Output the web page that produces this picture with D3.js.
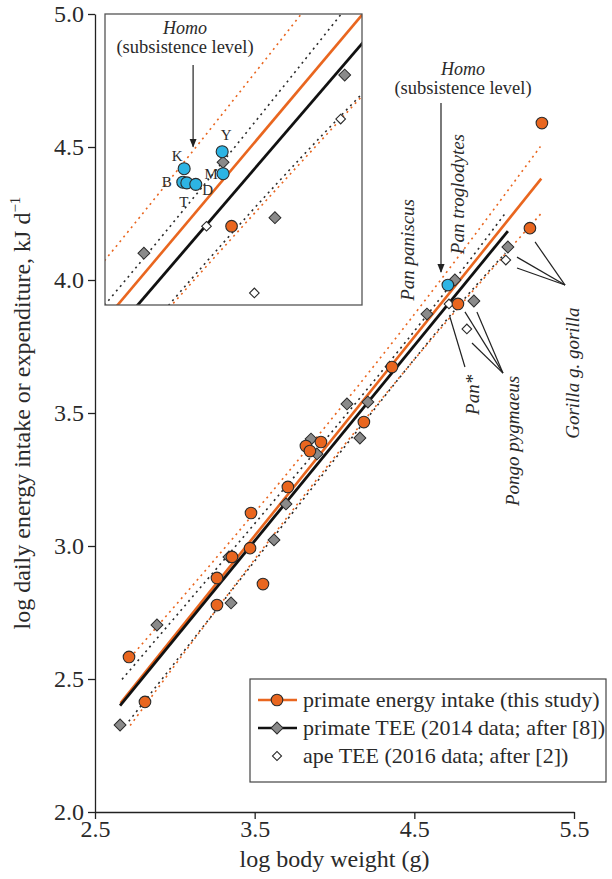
<!DOCTYPE html>
<html><head><meta charset="utf-8">
<script src="https://cdn.jsdelivr.net/npm/d3@7"></script>
<style>
body{margin:0;background:#fff}
text{font-family:"Liberation Serif","Times New Roman",serif;fill:#2a2a2a}
</style>
</head><body>
<svg id="c" width="612" height="879"></svg>
<script>
// ---------------- data ----------------
const xTicks = [2.5, 3.5, 4.5, 5.5];
const yTicks = [2.0, 2.5, 3.0, 3.5, 4.0, 4.5, 5.0];

// primate energy intake (this study)
const intakeX = [2.713, 2.813, 3.264, 3.264, 3.358, 3.552, 3.471, 3.477, 3.708, 3.821, 3.846, 3.915, 4.184, 4.360, 4.773, 5.224, 5.299];
const intakeY = [2.583, 2.414, 2.880, 2.778, 2.959, 2.857, 2.992, 3.124, 3.222, 3.376, 3.357, 3.391, 3.466, 3.673, 3.910, 4.195, 4.590];

// primate TEE (2014 data)
const teeX = [2.657, 2.888, 3.339, 3.352, 3.621, 3.696, 3.853, 3.890, 4.078, 4.159, 4.209, 4.579, 4.754, 4.873, 5.086];
const teeY = [2.327, 2.703, 2.959, 2.786, 3.023, 3.158, 3.402, 3.346, 3.534, 3.406, 3.541, 3.872, 4.000, 3.921, 4.124];

// ape TEE (2016 data)
const apeX = [4.717, 4.829, 5.073];
const apeY = [3.910, 3.816, 4.075];

// Homo (subsistence level) mean, main panel
const homoX = [4.710];
const homoY = [3.981];

// inset (enlarged view) points
const insetIntakeX = [4.773];
const insetIntakeY = [3.911];
const insetTeeX = [4.577, 4.754, 4.870, 5.026];
const insetTeeY = [3.873, 4.001, 3.923, 4.124];
const insetApeX = [4.717, 4.824, 5.017];
const insetApeY = [3.911, 3.817, 4.062];
const homoGroups = ["K", "B", "T", "D", "M", "Y"];
const homoGroupX = [4.667, 4.664, 4.673, 4.693, 4.754, 4.752];
const homoGroupY = [3.992, 3.973, 3.972, 3.970, 3.985, 4.016];

// regression lines and prediction bands
const intakeFitX = [2.66, 5.295];
const intakeFitY = [2.410, 4.381];
const intakeUpperX = [2.72, 3.60, 4.50, 5.29];
const intakeUpperY = [2.580, 3.198, 3.871, 4.502];
const intakeLowerX = [2.72, 3.60, 4.50, 5.30];
const intakeLowerY = [2.325, 3.028, 3.701, 4.254];
const teeFitX = [2.657, 5.086];
const teeFitY = [2.400, 4.184];
const teeUpperX = [2.657, 3.70, 4.50, 5.07];
const teeUpperY = [2.490, 3.226, 3.808, 4.251];
const teeLowerX = [2.70, 3.70, 4.60, 5.07];
const teeLowerY = [2.332, 3.096, 3.776, 4.101];

// ---------------- layout / styles ----------------
const ORANGE = "#E9661F", BLUE = "#2DB4E4", GREY = "#8a8a8a", DARK = "#2b2b2b";
const svg = d3.select("#c");
const x = d3.scaleLinear().domain([2.5, 5.5]).range([95, 574]);
const y = d3.scaleLinear().domain([2.0, 5.0]).range([812, 14]);

// inset scales
const ix = d3.scaleLinear().domain([4.49, 5.0647]).range([105, 362]);
const iy = d3.scaleLinear().domain([3.80, 4.21]).range([305, 14]);

const zip = (a, b) => a.map((v, i) => [v, b[i]]);
const lineSets = [
  {xs: intakeUpperX, ys: intakeUpperY, color: ORANGE, w: 1.6, dash: "2,4", off: 0},
  {xs: intakeLowerX, ys: intakeLowerY, color: ORANGE, w: 1.6, dash: "2,4", off: 0},
  {xs: teeUpperX, ys: teeUpperY, color: DARK, w: 1.6, dash: "2,4", off: 3},
  {xs: teeLowerX, ys: teeLowerY, color: DARK, w: 1.6, dash: "2,4", off: 3},
  {xs: intakeFitX, ys: intakeFitY, color: ORANGE, w: 2.6, dash: null, off: 0},
  {xs: teeFitX, ys: teeFitY, color: "#111", w: 2.8, dash: null, off: 0}
];

function drawLines(g, sx, sy) {
  lineSets.forEach(L => {
    const gen = d3.line().x(d => sx(d[0])).y(d => sy(d[1])).curve(d3.curveNatural);
    g.append("path").attr("d", gen(zip(L.xs, L.ys)))
      .attr("fill", "none").attr("stroke", L.color).attr("stroke-width", L.w)
      .attr("stroke-dasharray", L.dash).attr("stroke-dashoffset", L.off);
  });
}
function drawPoints(g, sx, sy, tee, ape, intake) {
  g.selectAll(null).data(tee).join("rect")
    .attr("x", -4.2).attr("y", -4.2).attr("width", 8.4).attr("height", 8.4)
    .attr("transform", d => `translate(${sx(d[0])},${sy(d[1])}) rotate(45)`)
    .attr("fill", GREY).attr("stroke", DARK).attr("stroke-width", 1);
  g.selectAll(null).data(ape).join("rect")
    .attr("x", -3.4).attr("y", -3.4).attr("width", 6.8).attr("height", 6.8)
    .attr("transform", d => `translate(${sx(d[0])},${sy(d[1])}) rotate(45)`)
    .attr("fill", "#fff").attr("stroke", DARK).attr("stroke-width", 1.1);
  g.selectAll(null).data(intake).join("circle")
    .attr("cx", d => sx(d[0])).attr("cy", d => sy(d[1])).attr("r", 5.8)
    .attr("fill", ORANGE).attr("stroke", DARK).attr("stroke-width", 1.1);
}

// ---------------- main panel ----------------
const main = svg.append("g");
drawLines(main, x, y);
drawPoints(main, x, y, zip(teeX, teeY), zip(apeX, apeY), zip(intakeX, intakeY));
main.selectAll(null).data(zip(homoX, homoY)).join("circle")
  .attr("cx", d => x(d[0])).attr("cy", d => y(d[1])).attr("r", 5.8)
  .attr("fill", BLUE).attr("stroke", DARK).attr("stroke-width", 1.1);

// axes
const yAxis = svg.append("g").attr("transform", `translate(${x(2.5)},0)`)
  .call(d3.axisLeft(y).tickValues(yTicks).tickFormat(d3.format(".1f")).tickSize(7).tickSizeOuter(0).tickPadding(4));
const xAxis = svg.append("g").attr("transform", `translate(0,${y(2.0)})`)
  .call(d3.axisBottom(x).tickValues(xTicks).tickFormat(d3.format(".1f")).tickSize(7).tickSizeOuter(0).tickPadding(1));
[yAxis, xAxis].forEach(a => {
  a.selectAll("path,line").attr("stroke", "#222").attr("stroke-width", 1.3);
  a.selectAll("text").attr("font-size", 24).attr("fill", "#2a2a2a")
    .attr("font-family", "'Liberation Serif','Times New Roman',serif");
});

svg.append("text").attr("x", (x(2.5) + x(5.5)) / 2).attr("y", 867)
  .attr("text-anchor", "middle").attr("font-size", 24).text("log body weight (g)");
const yt = svg.append("text").attr("transform", `translate(30,${(y(2) + y(5)) / 2}) rotate(-90)`)
  .attr("text-anchor", "middle").attr("font-size", 24);
yt.append("tspan").text("log daily energy intake or expenditure, kJ d");
yt.append("tspan").attr("font-size", 15).attr("dy", -10).text("\u22121");

// annotations: species
const ann = svg.append("g");
function vlabel(cx, cy, t) {
  ann.append("text").attr("transform", `translate(${x(cx)},${y(cy)}) rotate(-90)`)
    .attr("text-anchor", "middle").attr("dy", "0.32em").attr("font-size", 19)
    .attr("font-style", "italic").text(t);
}
vlabel(4.460, 4.113, "Pan paniscus");
vlabel(4.773, 4.323, "Pan troglodytes");
vlabel(4.867, 3.568, "Pan*");
vlabel(5.118, 3.395, "Pongo pygmaeus");
vlabel(5.494, 3.650, "Gorilla g. gorilla");

function seg(x1, y1, x2, y2) {
  ann.append("line").attr("x1", x(x1)).attr("y1", y(y1)).attr("x2", x(x2)).attr("y2", y(y2))
    .attr("stroke", "#222").attr("stroke-width", 1.2);
}
seg(4.723, 3.861, 4.817, 3.673);
seg(4.817, 3.880, 5.055, 3.650);
seg(4.892, 3.880, 5.055, 3.650);
seg(4.861, 3.763, 5.055, 3.650);
seg(5.256, 4.143, 5.444, 3.981);
seg(5.143, 4.086, 5.444, 3.981);
seg(5.143, 4.045, 5.444, 3.981);

svg.append("defs").append("marker").attr("id", "ah").attr("viewBox", "0 0 10 10")
  .attr("refX", 9).attr("refY", 5).attr("markerWidth", 9).attr("markerHeight", 9)
  .attr("orient", "auto").attr("markerUnits", "userSpaceOnUse")
  .append("path").attr("d", "M0,1 L10,5 L0,9 Z").attr("fill", "#222");

function homoLabel(g, cx, b2) {
  g.append("text").attr("x", cx).attr("y", b2 - 19).attr("text-anchor", "middle")
    .attr("font-size", 18).attr("font-style", "italic").text("Homo");
  g.append("text").attr("x", cx).attr("y", b2).attr("text-anchor", "middle")
    .attr("font-size", 18.5).text("(subsistence level)");
}
homoLabel(ann, x(4.805), y(4.699));
ann.append("line").attr("x1", x(4.667)).attr("y1", y(4.665)).attr("x2", x(4.667)).attr("y2", y(4.030))
  .attr("stroke", "#222").attr("stroke-width", 1.2).attr("marker-end", "url(#ah)");

// ---------------- inset ----------------
const [ix0, ix1] = ix.range(), [iy1, iy0] = iy.range();
svg.append("clipPath").attr("id", "ic").append("rect")
  .attr("x", ix0).attr("y", iy0).attr("width", ix1 - ix0).attr("height", iy1 - iy0);
svg.append("rect").attr("x", ix0).attr("y", iy0).attr("width", ix1 - ix0).attr("height", iy1 - iy0)
  .attr("fill", "#fff");
const inset = svg.append("g").attr("clip-path", "url(#ic)");
drawLines(inset, ix, iy);
drawPoints(inset, ix, iy, zip(insetTeeX, insetTeeY), zip(insetApeX, insetApeY), zip(insetIntakeX, insetIntakeY));
inset.selectAll(null).data(zip(homoGroupX, homoGroupY)).join("circle")
  .attr("cx", d => ix(d[0])).attr("cy", d => iy(d[1])).attr("r", 6)
  .attr("fill", BLUE).attr("stroke", DARK).attr("stroke-width", 1.1);
const grpOff = {K: [-7, -13], B: [-16, 0], T: [-3, 19], D: [12, 5], M: [-12, 0], Y: [4, -17]};
inset.selectAll(null).data(homoGroups).join("text")
  .attr("x", (d, i) => ix(homoGroupX[i]) + grpOff[d][0])
  .attr("y", (d, i) => iy(homoGroupY[i]) + grpOff[d][1])
  .attr("text-anchor", "middle").attr("dy", "0.35em").attr("font-size", 15).text(d => d);
homoLabel(inset, ix(4.669), iy(4.155));
inset.append("line").attr("x1", ix(4.687)).attr("y1", iy(4.138)).attr("x2", ix(4.687)).attr("y2", iy(4.023))
  .attr("stroke", "#222").attr("stroke-width", 1.2).attr("marker-end", "url(#ah)");
svg.append("rect").attr("x", ix0).attr("y", iy0).attr("width", ix1 - ix0).attr("height", iy1 - iy0)
  .attr("fill", "none").attr("stroke", "#555").attr("stroke-width", 1.3);

// ---------------- legend ----------------
const lg = svg.append("g");
lg.append("rect").attr("x", 250).attr("y", 679).attr("width", 356).attr("height", 103)
  .attr("fill", "#fff").attr("stroke", "#444").attr("stroke-width", 1.2);
const legendLabels = ["primate energy intake (this study)", "primate TEE (2014 data; after [8])", "ape TEE (2016 data; after [2])"];
legendLabels.forEach((t, i) => {
  const cy = 700 + i * 28;
  if (i < 2) lg.append("line").attr("x1", 258).attr("x2", 297).attr("y1", cy).attr("y2", cy)
    .attr("stroke", i === 0 ? ORANGE : "#111").attr("stroke-width", 2.6);
  if (i === 0) lg.append("circle").attr("cx", 277).attr("cy", cy).attr("r", 5.8)
    .attr("fill", ORANGE).attr("stroke", DARK).attr("stroke-width", 1.1);
  if (i === 1) lg.append("rect").attr("x", -4.2).attr("y", -4.2).attr("width", 8.4).attr("height", 8.4)
    .attr("transform", `translate(277,${cy}) rotate(45)`).attr("fill", GREY).attr("stroke", DARK);
  if (i === 2) lg.append("rect").attr("x", -3.2).attr("y", -3.2).attr("width", 6.4).attr("height", 6.4)
    .attr("transform", `translate(277,${cy}) rotate(45)`).attr("fill", "#fff").attr("stroke", DARK).attr("stroke-width", 1.1);
  lg.append("text").attr("x", 303).attr("y", cy).attr("dy", "0.32em").attr("font-size", 22).text(t);
});
</script>
</body></html>
